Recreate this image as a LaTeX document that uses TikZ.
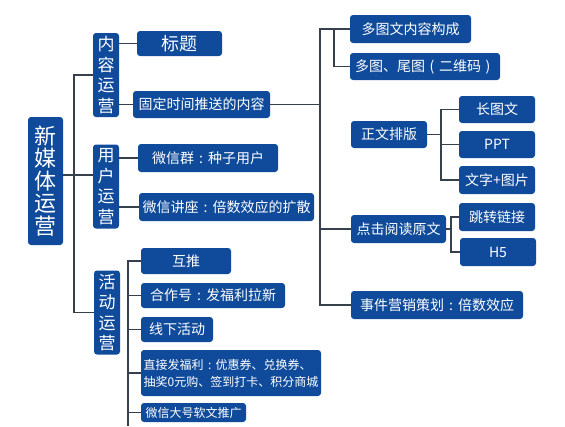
\documentclass[tikz,border=0pt]{standalone}
\usepackage{fontspec}
\setmainfont{Noto Sans CJK SC}
\usepackage{tikz}
\usetikzlibrary{positioning}

\definecolor{boxblue}{RGB}{16,75,155}
\definecolor{linegray}{RGB}{55,65,78}
\newcommand{\zcolon}{\makebox[1em]{:}}
\newcommand{\zlp}{\makebox[1em]{(}}
\newcommand{\zrp}{\makebox[1em]{)}}

\begin{document}
\begin{tikzpicture}[x=1pt,y=-1pt]
\tikzstyle{every node}=[font=\fontsize{14}{16}\selectfont]
\tikzstyle{box}=[fill=boxblue, text=white, rounded corners=3pt, inner sep=0pt, align=center]
\tikzstyle{vbox}=[box, minimum width=26, minimum height=84, font=\fontsize{17}{20.5}\selectfont]
\tikzstyle{sbox}=[box, minimum width=76, minimum height=27]
\tikzstyle{link}=[draw=linegray, line width=1.5pt]
\fill[white] (0,0) rectangle (565,426);
\useasboundingbox (0,0) rectangle (565,426);

% left part
\node[box, minimum width=35, minimum height=128, font=\fontsize{22}{22.5}\selectfont] (root) at (45.5,181) {新\\媒\\体\\运\\营};
\node[vbox] (nr) at (106,75) {内\\容\\运\\营};
\node[vbox] (yh) at (106,186.5) {用\\户\\运\\营};
\node[vbox] (hd) at (107,312.5) {活\\动\\运\\营};

\node[box, minimum width=85, minimum height=25, font=\fontsize{18}{20}\selectfont] (bt) at (179.5,43.5) {标题};
\node[box, minimum width=137, minimum height=27] (gd) at (201.5,104.5) {固定时间推送的内容};
\node[box, minimum width=140, minimum height=28] (wxq) at (208,158) {微信群\zcolon 种子用户};
\node[box, minimum width=175, minimum height=28] (wxjz) at (226.5,207) {微信讲座\zcolon 倍数效应的扩散};

\node[box, minimum width=90, minimum height=26] (ht) at (186,261) {互推};
\node[box, minimum width=144, minimum height=25] (hzh) at (213,295.5) {合作号\zcolon 发福利拉新};
\node[box, minimum width=72, minimum height=25] (xx) at (177,329.5) {线下活动};
\node[box, minimum width=180, minimum height=46, align=left, font=\fontsize{12}{17}\selectfont] (zj) at (231,373) {直接发福利\zcolon 优惠券、兑换券、\\抽奖0元购、签到打卡、积分商城};
\node[box, minimum width=105, minimum height=19, font=\fontsize{12}{14}\selectfont] (dh) at (193.5,412.5) {微信大号软文推广};

% right part
\node[box, minimum width=121, minimum height=28] (dtw) at (410.5,29) {多图文内容构成};
\node[box, minimum width=150, minimum height=27] (dt) at (425,66.5) {多图、尾图\zlp 二维码\zrp};
\node[sbox] (zw) at (389,134.5) {正文排版};
\node[sbox] (ctw) at (497,109.5) {长图文};
\node[sbox] (ppt) at (497,144.5) {PPT};
\node[sbox, minimum height=28] (wz) at (497,180) {文字+图片};
\node[box, minimum width=95, minimum height=28] (dj) at (398.5,229) {点击阅读原文};
\node[sbox, minimum height=28] (tz) at (497,217) {跳转链接};
\node[sbox, minimum height=28] (h5) at (498,252) {H5};
\node[box, minimum width=172, minimum height=28] (sj) at (437,305) {事件营销策划\zcolon 倍数效应};

% connectors, left
\coordinate (tk) at (74,0);
\coordinate (ym) at (0,175);
\draw[link] (nr.west) -| (tk |- hd.west) -- (hd.west);
\draw[link] (root.east |- ym) -- (yh.west |- ym);
\draw[link] (nr.east |- bt.west) -- (bt.west);
\draw[link] (nr.east |- gd.west) -- (gd.west);
\draw[link] (yh.east |- wxq.west) -- (wxq.west);
\draw[link] (yh.east |- wxjz.west) -- (wxjz.west);

\coordinate (hv) at (128,0);
\coordinate (bot) at (0,426);
\draw[link] (ht.west) -| (hv |- bot);
\foreach \n in {hzh,xx,zj,dh}
  \draw[link] (hv |- \n.west) -- (\n.west);

% connectors, right
\coordinate (rv) at (320,0);
\draw[link] (gd.east) -- (rv |- gd.east);
\draw[link] (dtw.west) -| (rv |- sj.west) -- (sj.west);
\draw[link] (rv |- dj.west) -- (dj.west);
\coordinate (rv2) at (334,0);
\draw[link] (rv2 |- dtw.west) |- (dt.west);

\coordinate (zv) at (441,0);
\draw[link] (zw.east) -- (zv |- zw.east);
\draw[link] (ctw.west) -| (zv |- wz.west) -- (wz.west);
\draw[link] (zv |- ppt.west) -- (ppt.west);

\coordinate (dv) at (451,0);
\draw[link] (dj.east) -- (dv |- dj.east);
\draw[link] (tz.west) -| (dv |- h5.west) -- (h5.west);
\end{tikzpicture}
\end{document}
